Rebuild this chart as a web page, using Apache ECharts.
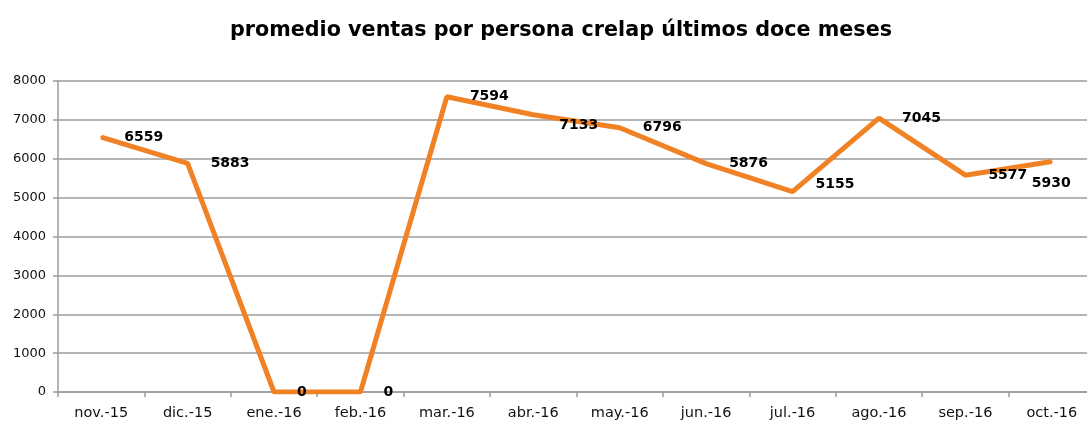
<!DOCTYPE html>
<html>
<head>
<meta charset="utf-8">
<script src="https://cdn.jsdelivr.net/npm/echarts@6/dist/echarts.min.js"></script>
<style>html,body{margin:0;padding:0;background:#fff}#c{width:1087px;height:425px}</style>
</head>
<body>
<div id="c"></div>
<script>
const title = 'promedio ventas por persona crelap últimos doce meses';
const categories = ['nov.-15','dic.-15','ene.-16','feb.-16','mar.-16','abr.-16','may.-16','jun.-16','jul.-16','ago.-16','sep.-16','oct.-16'];
const ventas = [6559, 5883, 0, 0, 7594, 7133, 6796, 5876, 5155, 7045, 5577, 5930];
const yTicks = [0, 1000, 2000, 3000, 4000, 5000, 6000, 7000, 8000];

// label offset tweaks (style only)
const labelOffsets = {5: [3, 11], 8: [0, -7], 11: [-43, 22]};

const chart = echarts.init(document.getElementById('c'), null, {renderer: 'canvas'});
const font = '"DejaVu Sans", sans-serif';
chart.setOption({
  animation: false,
  title: {
    text: title, left: 556, textAlign: 'center', top: 15,
    textStyle: {fontFamily: font, fontWeight: 'bold', fontSize: 20.7, color: '#000'}
  },
  grid: {left: 58, width: 1037, top: 81, bottom: 33, containLabel: false, outerBoundsMode: 'none'},
  xAxis: {
    type: 'category', data: categories, boundaryGap: true,
    axisLine: {lineStyle: {color: '#9c9c9c', width: 1.5}},
    axisTick: {show: true, length: 5, alignWithLabel: false, lineStyle: {color: '#9c9c9c', width: 1.5}},
    axisLabel: {fontFamily: font, fontSize: 14.5, color: '#111', margin: 14, interval: 0}
  },
  yAxis: {
    type: 'value', min: yTicks[0], max: yTicks[yTicks.length - 1], interval: 1000,
    axisLine: {show: true, lineStyle: {color: '#9c9c9c', width: 1.5}},
    axisTick: {show: true, length: 5, lineStyle: {color: '#9c9c9c', width: 1.5}},
    splitLine: {lineStyle: {color: '#9c9c9c', width: 1.5}},
    axisLabel: {fontFamily: font, fontSize: 13, color: '#111', margin: 12, formatter: v => String(v)}
  },
  series: [{
    type: 'line',
    data: ventas.map((v, i) => labelOffsets[i] ? {value: v, label: {offset: labelOffsets[i]}} : v),
    symbol: 'circle', symbolSize: 2, showSymbol: true, showAllSymbol: true,
    lineStyle: {color: '#F08124', width: 5},
    itemStyle: {color: '#F08124'},
    label: {
      show: true, position: 'right', distance: 22, formatter: p => String(p.value),
      fontFamily: font, fontWeight: 'bold', fontSize: 14, color: '#000'
    }
  }]
});
</script>
</body>
</html>
